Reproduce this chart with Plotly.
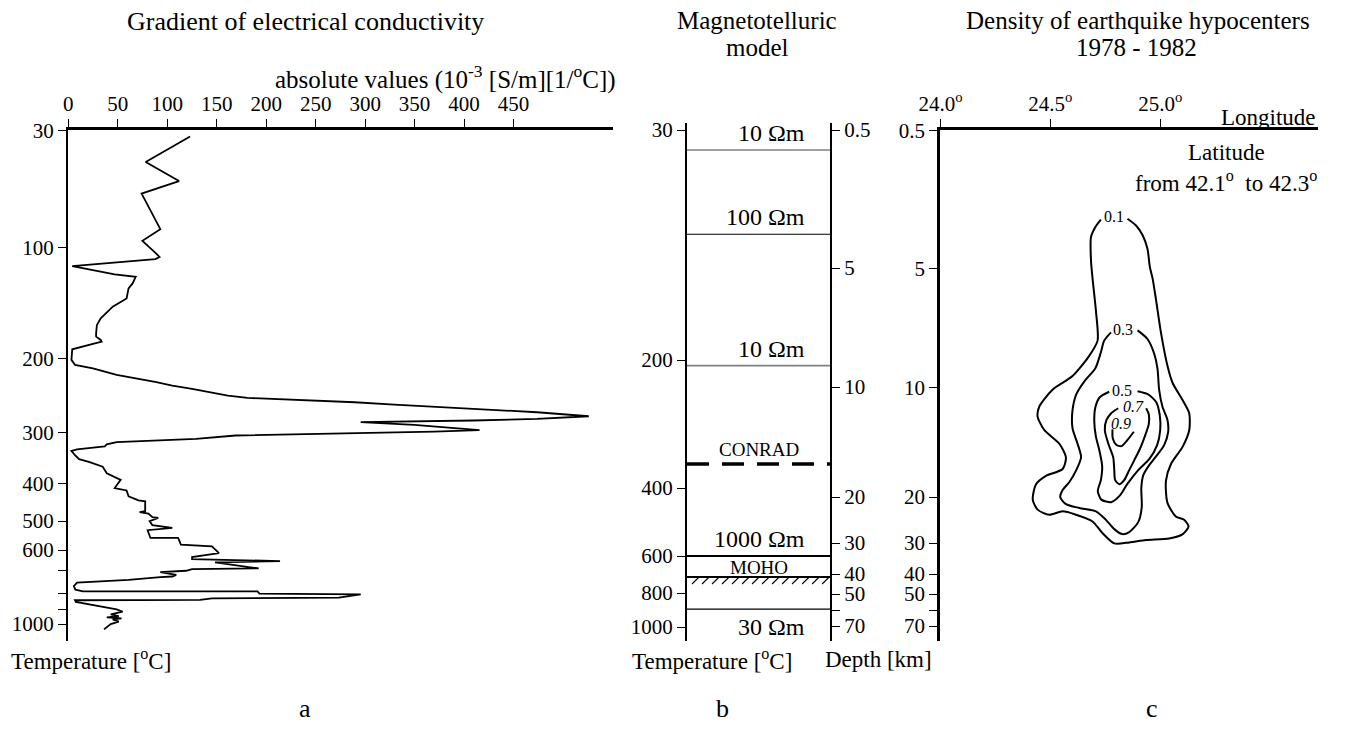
import numpy as np
import plotly.graph_objects as go

W, H = 1345, 731
OFF = 8                      # page body margin of the browser
FW, FH = W - OFF, H - OFF
FONT = "Liberation Serif"

# ---------------- data ----------------
# (a) gradient of electrical conductivity (10^-3 [S/m][1/°C]) versus temperature [°C]
temp_a = [33.6, 48.9, 60.3, 67.8, 89.1, 96.1, 105.0, 108.6, 110.6, 116.9,
          124.4, 126.5, 132.5, 137.0, 146.0, 153.5, 164.0, 170.0, 177.5, 180.5,
          183.5, 185.0, 187.1, 191.9, 202.2, 208.9, 213.5, 222.4, 232.4, 236.9,
          241.4, 245.9, 250.5, 253.6, 255.0, 259.5, 262.6, 265.3, 268.5, 273.0,
          278.4, 282.0, 284.2, 286.5, 290.1, 297.3, 299.1, 300.6, 304.5, 306.5,
          312.9, 316.1, 319.4, 323.9, 327.7, 333.5, 336.8, 345.2, 352.9, 358.1,
          367.7, 380.6, 385.8, 393.5, 413.0, 419.1, 434.8, 445.2, 447.8, 473.9,
          476.5, 480.0, 489.6, 491.3, 500.0, 514.0, 523.3, 531.4, 558.1, 558.1,
          581.4, 587.2, 615.0, 635.0, 645.0, 655.0, 661.7, 691.7, 695.0, 703.0,
          709.0, 721.0, 728.0, 731.0, 743.0, 746.0, 755.0, 770.0, 785.0, 792.5,
          792.5, 804.0, 808.0, 829.0, 833.0, 843.0, 845.0, 855.0, 876.0, 902.0,
          918.0, 936.0, 947.0, 956.0, 962.0, 969.0, 984.0, 1000.0, 1036.0]
grad_a = [123.1, 78.2, 111.9, 74.1, 93.0, 74.9, 88.1, 92.2, 88.1, 4.0,
          46.9, 68.1, 65.0, 60.9, 58.9, 44.9, 32.8, 28.9, 28.1, 28.1,
          32.8, 33.7, 24.9, 4.0, 3.2, 6.8, 24.9, 48.9, 89.0, 105.1,
          125.1, 145.2, 161.2, 181.2, 209.2, 289.4, 329.5, 369.6, 409.7, 473.8,
          526.0, 473.8, 409.7, 295.5, 349.6, 415.6, 369.6, 309.5, 209.2, 169.1,
          129.0, 89.0, 48.9, 38.9, 36.8, 8.8, 3.2, 6.8, 10.9, 20.8,
          34.8, 38.9, 44.9, 52.9, 46.9, 58.9, 60.9, 70.9, 77.7, 77.7,
          72.1, 81.0, 85.0, 90.9, 82.2, 85.0, 105.1, 80.2, 83.0, 111.0,
          113.8, 145.2, 152.3, 125.1, 125.1, 214.0, 148.3, 192.4, 125.1, 119.1,
          93.0, 109.1, 105.1, 93.0, 60.9, 48.9, 8.8, 5.6, 7.2, 14.8,
          191.2, 193.2, 295.5, 273.4, 145.2, 133.1, 6.8, 7.6, 24.9, 48.9,
          54.9, 42.9, 51.0, 38.9, 53.8, 44.9, 51.0, 42.9, 36.1]

grad_ticks = [0, 50, 100, 150, 200, 250, 300, 350, 400, 450]
temp_ticks_a = [30, 100, 200, 300, 400, 500, 600, 700, 800, 900, 1000]
temp_labels_a = ["30", "100", "200", "300", "400", "500", "600", "", "", "", "1000"]

# (b) magnetotelluric model
temp_ticks_b = [30, 200, 400, 600, 800, 1000]
temp_labels_b = ["30", "200", "400", "600", "800", "1000"]
depth_ticks = [0.5, 5, 10, 20, 30, 40, 50, 60, 70]
depth_labels = ["0.5", "5", "10", "20", "30", "40", "50", "", "70"]
layer_bounds_km = [1.15, 3.9, 9.1, 34.2, 59.4]
layer_res = ["10 Ωm", "100 Ωm", "10 Ωm", "1000 Ωm", "30 Ωm"]
conrad_km = 17.0
moho_km = 41.5
moho_hatch_km = 45.0

# (c) density of earthquake hypocenters (contours: longitude, depth km)
lon_ticks = [24.0, 24.5, 25.0]
lon_labels = ["24.0<sup>o</sup>", "24.5<sup>o</sup>", "25.0<sup>o</sup>"]
c01_lon = [24.851, 24.890, 24.920, 24.942, 24.953, 24.965, 24.980, 25.003, 25.033, 25.056,
           25.101, 25.132, 25.132, 25.101, 25.049, 25.026, 25.033, 25.071, 25.109, 25.129,
           25.101, 25.041, 24.935, 24.859, 24.791, 24.738, 24.692, 24.617, 24.556, 24.495,
           24.442, 24.420, 24.435, 24.480, 24.556, 24.571, 24.541, 24.473, 24.442, 24.450,
           24.510, 24.601, 24.677, 24.715, 24.708, 24.692, 24.685, 24.685, 24.705, 24.730]
c01_dep = [3.38, 3.60, 3.92, 4.36, 4.96, 5.41, 6.26, 7.68, 9.10, 9.81,
           11.14, 12.37, 13.91, 15.45, 16.98, 18.52, 21.24, 24.20, 24.94, 26.39,
           28.09, 28.98, 29.35, 29.85, 30.10, 27.87, 25.30, 23.83, 23.09, 23.83,
           22.72, 20.52, 18.83, 18.06, 17.44, 16.37, 15.14, 13.91, 12.67, 11.75,
           10.22, 9.53, 8.68, 8.04, 6.83, 5.41, 4.74, 3.98, 3.65, 3.41]
c03_lon = [24.897, 24.942, 24.973, 24.988, 24.995, 25.010, 25.033, 25.036, 25.018, 24.982,
           24.950, 24.923, 24.914, 24.916, 24.900, 24.859, 24.827, 24.791, 24.753, 24.708,
           24.632, 24.571, 24.545, 24.556, 24.586, 24.618, 24.640, 24.624, 24.601, 24.601,
           24.618, 24.655, 24.705, 24.730, 24.745, 24.776]
c03_dep = [7.61, 7.97, 8.60, 9.25, 10.22, 11.75, 12.98, 14.09, 15.27, 16.27,
           17.09, 18.0, 19.18, 22.17, 25.44, 27.61, 28.04, 26.96, 24.94, 23.09,
           22.35, 21.52, 20.0, 19.36, 18.64, 17.54, 16.37, 15.14, 13.73, 12.09,
           10.64, 9.75, 9.20, 8.53, 8.04, 7.69]
c05_lon = [24.897, 24.945, 24.982, 24.998, 25.000, 24.986, 24.950, 24.900, 24.850, 24.818,
           24.777, 24.732, 24.716, 24.730, 24.736, 24.723, 24.707, 24.700, 24.705, 24.725, 24.768]
c05_dep = [10.36, 10.64, 11.36, 12.55, 13.91, 15.27, 16.55, 17.54, 18.82, 19.82,
           21.09, 20.54, 19.45, 18.45, 17.18, 15.73, 14.45, 13.09, 11.82, 10.91, 10.41]
c07_lon = [24.936, 24.948, 24.948, 24.932, 24.909, 24.882, 24.859, 24.836, 24.814, 24.795,
           24.791, 24.786, 24.764, 24.748, 24.755, 24.777, 24.809]
c07_dep = [11.91, 12.45, 13.36, 14.36, 15.55, 16.64, 17.54, 18.45, 18.82, 18.45,
           17.54, 16.36, 15.14, 13.91, 13.0, 12.36, 11.91]
c09_lon = [24.783, 24.784, 24.800, 24.823, 24.850, 24.880]
c09_dep = [13.82, 14.64, 15.23, 15.36, 14.82, 14.05]
contour_levels = ["0.1", "0.3", "0.5", "<i>0.7</i>", "<i>0.9</i>"]
label_lon = [24.791, 24.832, 24.827, 24.877, 24.823]
label_dep = [3.30, 7.56, 10.27, 11.73, 13.27]

# ---------------- nonlinear vertical scale (axis calibration, page pixels) ----------------
FRAME_TOP, FRAME_BOTTOM, FRAME_TOP_B = 130, 641, 123
temp_pos_a = [130, 247, 358, 432, 483, 521, 550, 570, 593, 609, 624]
temp_pos_b = [130, 360, 488, 556, 593, 627]
depth_pos = [130, 268, 387, 497, 543, 574, 594, 610, 626]


def to_pos(vals, ticks, pos):
    v = np.asarray(vals, float)
    t = np.asarray(ticks, float)
    p = np.asarray(pos, float)
    out = np.interp(v, t, p)
    lo, hi = v < t[0], v > t[-1]
    out[lo] = p[0] + (v[lo] - t[0]) * (p[1] - p[0]) / (t[1] - t[0])
    out[hi] = p[-1] + (v[hi] - t[-1]) * (p[-1] - p[-2]) / (t[-1] - t[-2])
    return out


def dpos(km):
    return to_pos(km, depth_ticks, depth_pos)


def fx(p):
    return (p - OFF) / FW


def fy(p):
    return 1 - (p - OFF) / FH


fig = go.Figure()

# panel a curve
fig.add_trace(go.Scatter(x=grad_a, y=to_pos(temp_a, temp_ticks_a, temp_pos_a),
                         mode="lines", line=dict(color="black", width=1.8),
                         xaxis="x", yaxis="y", hoverinfo="skip"))

# panel b layer boundaries
bcol = ["#808080", "black", "#808080", "black", "black"]
bwid = [1.6, 1.2, 1.6, 2.2, 1.2]
for km, c, w in zip(layer_bounds_km, bcol, bwid):
    yy = float(dpos([km])[0])
    fig.add_trace(go.Scatter(x=[0, 1], y=[yy, yy], mode="lines",
                             line=dict(color=c, width=w), xaxis="x2", yaxis="y2"))
yc = float(dpos([conrad_km])[0])
fig.add_trace(go.Scatter(x=[0, 1], y=[yc, yc], mode="lines",
                         line=dict(color="black", width=3.5, dash="22px,13px"),
                         xaxis="x2", yaxis="y2"))

# MOHO with hatching beneath (hatch strokes are a style element)
ym = float(dpos([moho_km])[0])
yh = float(dpos([moho_hatch_km])[0])
HATCH_STEP, HATCH_DX = 0.07, 0.05
hx, hy = [], []
for x0 in np.arange(0.035, 0.95, HATCH_STEP):
    hx += [x0, x0 + HATCH_DX, None]
    hy += [yh, ym, None]
fig.add_trace(go.Scatter(x=hx, y=hy, mode="lines", line=dict(color="black", width=1.1),
                         xaxis="x2", yaxis="y3", connectgaps=False))
fig.add_trace(go.Scatter(x=[0, 1], y=[ym, ym], mode="lines",
                         line=dict(color="black", width=2.2), xaxis="x2", yaxis="y3"))

# panel c contours
for lo, de in [(c01_lon, c01_dep), (c03_lon, c03_dep), (c05_lon, c05_dep),
               (c07_lon, c07_dep), (c09_lon, c09_dep)]:
    fig.add_trace(go.Scatter(x=lo, y=dpos(de), mode="lines",
                             line=dict(color="black", width=2, shape="spline", smoothing=0.7),
                             xaxis="x3", yaxis="y4"))

tickfont = dict(family=FONT, size=21, color="black")
common = dict(showgrid=False, zeroline=False, ticks="outside", ticklen=8, tickwidth=1.2,
              tickcolor="black", linecolor="black", tickfont=tickfont, automargin=False)
dom_b = [fy(FRAME_BOTTOM), fy(FRAME_TOP_B)]

fig.update_layout(
    width=FW, height=FH, margin=dict(l=0, r=0, t=0, b=0),
    paper_bgcolor="white", plot_bgcolor="white", showlegend=False,
    font=dict(family=FONT, color="black"),
    xaxis=dict(domain=[fx(68), fx(613)], range=[-0.3, 550.5], side="top", anchor="y",
               tickvals=grad_ticks, showline=True, linewidth=3, **common),
    yaxis=dict(domain=[fy(FRAME_BOTTOM), fy(FRAME_TOP)], range=[FRAME_BOTTOM, FRAME_TOP - 0.5],
               anchor="x", tickvals=to_pos(temp_ticks_a, temp_ticks_a, temp_pos_a),
               ticktext=temp_labels_a, showline=True, linewidth=2, **common),
    xaxis2=dict(domain=[fx(687), fx(830)], range=[0, 1], anchor="y2", visible=False),
    yaxis2=dict(domain=dom_b, range=[FRAME_BOTTOM, FRAME_TOP_B],
                anchor="x2", side="left", tickvals=to_pos(temp_ticks_b, temp_ticks_b, temp_pos_b),
                ticktext=temp_labels_b, showline=True, linewidth=2, **common),
    yaxis3=dict(domain=dom_b, range=[FRAME_BOTTOM, FRAME_TOP_B], overlaying="y2", anchor="x2",
                side="right", tickvals=dpos(depth_ticks), ticktext=depth_labels,
                showline=True, linewidth=2, **common),
    xaxis3=dict(domain=[fx(940), fx(1318)], range=[23.998, 25.718], side="top", anchor="y4",
                tickvals=lon_ticks, ticktext=lon_labels, showline=True, linewidth=3, **common),
    yaxis4=dict(domain=[fy(FRAME_BOTTOM), fy(FRAME_TOP)], range=[FRAME_BOTTOM, FRAME_TOP - 0.5],
                anchor="x3", tickvals=dpos(depth_ticks), ticktext=depth_labels,
                showline=True, linewidth=2.5, **common),
)

ann = []


def paper_text(text, x, y, size, xanchor="center"):
    ann.append(dict(text=text, x=fx(x), y=fy(y), xref="paper", yref="paper",
                    xanchor=xanchor, yanchor="middle", showarrow=False,
                    font=dict(family=FONT, size=size, color="black")))


paper_text("Gradient of electrical conductivity", 305, 21, 26)
paper_text("absolute values (10<sup>-3</sup> [S/m][1/<sup>o</sup>C])", 618, 78, 25, "right")
paper_text("Magnetotelluric", 757, 20, 25)
paper_text("model", 757, 47, 25)
paper_text("Density of earthquike hypocenters", 1138, 20, 25)
paper_text("1978 - 1982", 1136, 47, 25)
paper_text("Longitude", 1318, 117, 23, "right")
paper_text("Latitude", 1226, 153, 23)
paper_text("from 42.1<sup>o</sup>  to 42.3<sup>o</sup>", 1226, 181, 23)
paper_text("Temperature [<sup>o</sup>C]", 9, 659, 23, "left")
paper_text("Temperature [<sup>o</sup>C]", 712, 659, 23)
paper_text("Depth [km]", 878, 659, 23)
paper_text("a", 305, 708, 26)
paper_text("b", 722, 708, 26)
paper_text("c", 1152, 708, 26)

# resistivity labels in panel b
anchors = ["bottom", "bottom", "bottom", "bottom", "top"]
for km, txt, an in zip(layer_bounds_km, layer_res, anchors):
    ann.append(dict(text=txt, x=0.84, y=float(dpos([km])[0]), xref="x2", yref="y2",
                    xanchor="right", yanchor=an, showarrow=False,
                    yshift=(2 if an == "bottom" else -3),
                    font=dict(family=FONT, size=24, color="black")))
ann.append(dict(text="CONRAD", x=0.5, y=yc, xref="x2", yref="y2", xanchor="center",
                yanchor="bottom", yshift=2, showarrow=False,
                font=dict(family=FONT, size=19, color="black")))
ann.append(dict(text="MOHO", x=0.5, y=ym, xref="x2", yref="y2", xanchor="center",
                yanchor="bottom", yshift=-3, showarrow=False,
                font=dict(family=FONT, size=19, color="black")))

# contour labels
for lv, lo, de in zip(contour_levels, label_lon, label_dep):
    ann.append(dict(text=lv, x=lo, y=float(dpos([de])[0]), xref="x3", yref="y4",
                    xanchor="center", yanchor="middle", showarrow=False,
                    font=dict(family=FONT, size=16, color="black")))

fig.update_layout(annotations=ann)
fig.write_html("out.html")
